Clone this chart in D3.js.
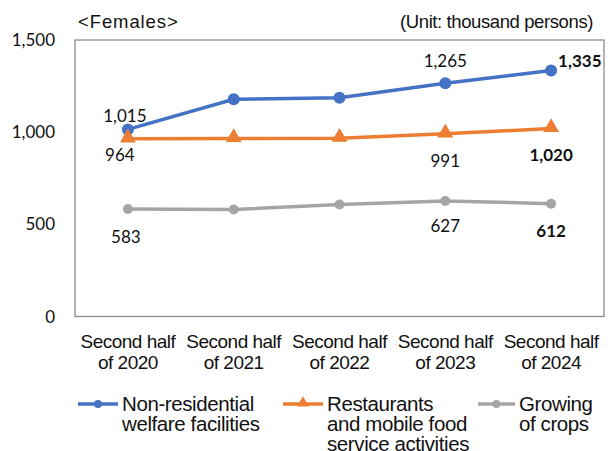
<!DOCTYPE html>
<html>
<head>
  <meta charset="utf-8">
  <title>Females by industry</title>
  <script src="https://d3js.org/d3.v7.min.js"></script>
  <style>
    body {
      margin: 0;
      padding: 0;
      background: #fff;
    }
    .num {
      font-family: Lato, "Noto Sans", sans-serif;
      font-size: 17px;
      fill: #111;
    }
    .txt {
      font-family: "Liberation Sans", Arial, sans-serif;
      font-size: 18.5px;
      fill: #111;
      letter-spacing: -0.4px;
    }
    .cat { font-size: 19px; letter-spacing: -0.5px; }
    .leg { font-size: 20.5px; letter-spacing: -0.4px; }
  </style>
</head>
<body>
  <div id="chart"></div>

  <script>
    // data
    var periods = ["Second half|of 2020", "Second half|of 2021", "Second half|of 2022", "Second half|of 2023", "Second half|of 2024"];
    var seriesNames = ["Non-residential|welfare facilities", "Restaurants|and mobile food|service activities", "Growing|of crops"];
    var welfare = [1015, 1178, 1187, 1265, 1335];
    var restaurants = [964, 966, 967, 991, 1020];
    var crops = [583, 580, 608, 627, 612];
    var yTicks = [0, 500, 1000, 1500];
    var labelled = [0, 3, 4];

    var width = 611, height = 451;
    var plotL = 75, plotR = 604, plotT = 40, plotB = 316.5;

    var svg = d3.select("#chart").append("svg")
      .attr("width", width)
      .attr("height", height);

    var x = d3.scaleBand()
      .domain(d3.range(periods.length))
      .range([plotL, plotR]);

    var y = d3.scaleLinear()
      .domain([0, 1500])
      .range([plotB, plotT]);

    var fmt = d3.format(",");
    var cx = function(i) { return x(i) + x.bandwidth() / 2; };

    // frame
    svg.append("rect")
      .attr("x", plotL).attr("y", plotT)
      .attr("width", plotR - plotL).attr("height", plotB - plotT)
      .attr("fill", "none")
      .attr("stroke", "#8c8c8c")
      .attr("stroke-width", 1.3);

    // y axis labels
    svg.selectAll(".ytick")
      .data(yTicks)
      .enter().append("text")
        .attr("class", "num")
        .attr("x", 55)
        .attr("y", function(d) { return y(d) + 6; })
        .attr("text-anchor", "end")
        .text(fmt);

    // x category labels
    var cats = svg.selectAll(".xcat")
      .data(periods)
      .enter().append("text")
        .attr("class", "txt cat")
        .attr("text-anchor", "middle")
        .attr("y", 348);
    cats.each(function(d, i) {
      var t = d3.select(this);
      d.split("|").forEach(function(line, k) {
        t.append("tspan")
          .attr("x", cx(i))
          .attr("dy", k === 0 ? 0 : 21)
          .text(line);
      });
    });

    // titles
    svg.append("text").attr("class", "txt")
      .attr("x", 78).attr("y", 28)
      .style("letter-spacing", "0.9px")
      .text("<Females>");
    svg.append("text").attr("class", "txt")
      .attr("x", 593).attr("y", 28)
      .attr("text-anchor", "end")
      .text("(Unit: thousand persons)");

    var series = [
      { values: welfare, color: "#4472c4", marker: "circle", r: 6 },
      { values: restaurants, color: "#ed7d31", marker: "triangle", r: 6 },
      { values: crops, color: "#a5a5a5", marker: "circle", r: 5 }
    ];

    // label placement per series for labelled points: [dx, dy, anchor, bold]
    var placement = [
      [[-3, -7, "middle", false], [0, -16, "middle", false], [7, -3, "start", true]],
      [[-8, 22, "middle", false], [0, 33, "middle", false], [0, 33, "middle", true]],
      [[-2, 34, "middle", false], [0, 31, "middle", false], [0, 33, "middle", true]]
    ];

    var line = d3.line()
      .x(function(d, i) { return cx(i); })
      .y(function(d) { return y(d); });

    var tri = d3.symbol().type(d3.symbolTriangle).size(110);

    series.forEach(function(s, si) {
      svg.append("path")
        .datum(s.values)
        .attr("d", line)
        .attr("fill", "none")
        .attr("stroke", s.color)
        .attr("stroke-width", 3.5);

      var pts = svg.selectAll(".pt" + si)
        .data(s.values)
        .enter();

      if (s.marker === "circle") {
        pts.append("circle")
          .attr("cx", function(d, i) { return cx(i); })
          .attr("cy", function(d) { return y(d); })
          .attr("r", s.r)
          .attr("fill", s.color);
      } else {
        pts.append("path")
          .attr("d", tri)
          .attr("transform", function(d, i) {
            return "translate(" + cx(i) + "," + (y(d) - 1) + ")";
          })
          .attr("fill", s.color);
      }

      labelled.forEach(function(i, k) {
        var p = placement[si][k];
        svg.append("text")
          .attr("class", "num")
          .attr("x", cx(i) + p[0])
          .attr("y", y(s.values[i]) + p[1])
          .attr("text-anchor", p[2])
          .style("font-weight", p[3] ? "bold" : "normal")
          .text(fmt(s.values[i]));
      });
    });

    // legend
    var legendX = [78, 283, 478];
    var legendLen = [40, 40, 37];
    seriesNames.forEach(function(name, si) {
      var s = series[si];
      var lx = legendX[si], len = legendLen[si];
      svg.append("line")
        .attr("x1", lx).attr("x2", lx + len)
        .attr("y1", 404).attr("y2", 404)
        .attr("stroke", s.color)
        .attr("stroke-width", 3.5);
      if (s.marker === "circle") {
        svg.append("circle")
          .attr("cx", lx + len / 2).attr("cy", 404)
          .attr("r", 4).attr("fill", s.color);
      } else {
        svg.append("path")
          .attr("d", d3.symbol().type(d3.symbolTriangle).size(60))
          .attr("transform", "translate(" + (lx + len / 2) + ",403)")
          .attr("fill", s.color);
      }
      var t = svg.append("text")
        .attr("class", "txt leg")
        .attr("y", 411);
      name.split("|").forEach(function(part, k) {
        t.append("tspan")
          .attr("x", lx + len + 4)
          .attr("dy", k === 0 ? 0 : 20)
          .text(part);
      });
    });
  </script>
</body>
</html>
